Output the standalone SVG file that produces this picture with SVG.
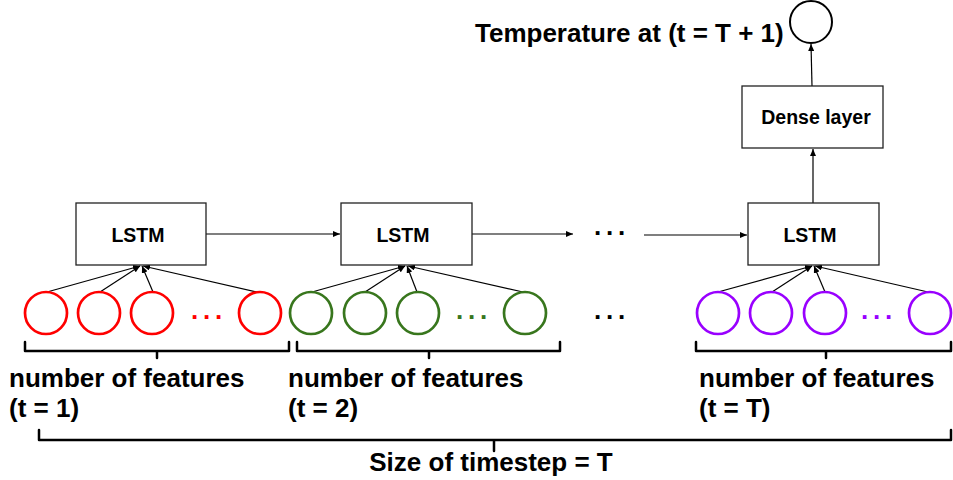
<svg xmlns="http://www.w3.org/2000/svg" width="953" height="480" viewBox="0 0 953 480">
<style>
  .box{fill:#fff;stroke:#222;stroke-width:1.3}
  .lbl{font-family:"Liberation Sans",Arial,sans-serif;font-weight:bold;fill:#000}
  .big{font-size:26px}
  .small{font-size:19.5px}
  .red{fill:none;stroke:#ff0000;stroke-width:2.7}
  .green{fill:none;stroke:#38761d;stroke-width:2.7}
  .purple{fill:none;stroke:#9900ff;stroke-width:2.7}
  .conn{fill:none;stroke:#000;stroke-width:1.2}
  .brace{fill:none;stroke:#000;stroke-width:2.5;stroke-linejoin:round;stroke-linecap:round}
</style>
<defs>
  <marker id="arr" markerUnits="userSpaceOnUse" markerWidth="7" markerHeight="6" refX="7" refY="3" orient="auto">
    <path d="M0,0 L7,3 L0,6 z" fill="#000"/>
  </marker>
</defs>
<rect width="953" height="480" fill="#fff"/>

<g id="connectors">
  <line class="conn" x1="47" y1="292" x2="140" y2="266" marker-end="url(#arr)"/>
  <line class="conn" x1="100" y1="292" x2="140" y2="266" marker-end="url(#arr)"/>
  <line class="conn" x1="153" y1="292" x2="142" y2="266" marker-end="url(#arr)"/>
  <line class="conn" x1="257" y1="292" x2="143" y2="266" marker-end="url(#arr)"/>

  <line class="conn" x1="312" y1="292" x2="405" y2="266" marker-end="url(#arr)"/>
  <line class="conn" x1="365" y1="292" x2="405" y2="266" marker-end="url(#arr)"/>
  <line class="conn" x1="417" y1="292" x2="407" y2="266" marker-end="url(#arr)"/>
  <line class="conn" x1="523" y1="292" x2="408" y2="266" marker-end="url(#arr)"/>

  <line class="conn" x1="718" y1="292" x2="812" y2="266" marker-end="url(#arr)"/>
  <line class="conn" x1="772" y1="292" x2="812" y2="266" marker-end="url(#arr)"/>
  <line class="conn" x1="825" y1="292" x2="814" y2="266" marker-end="url(#arr)"/>
  <line class="conn" x1="928" y1="292" x2="815" y2="266" marker-end="url(#arr)"/>

  <line class="conn" x1="206" y1="234" x2="340" y2="234" marker-end="url(#arr)"/>
  <line class="conn" x1="472" y1="234" x2="573" y2="234" marker-end="url(#arr)"/>
  <line class="conn" x1="644" y1="235" x2="747" y2="235" marker-end="url(#arr)"/>
  <line class="conn" x1="813" y1="203" x2="813" y2="149" marker-end="url(#arr)"/>
  <line class="conn" x1="812" y1="86" x2="811" y2="44" marker-end="url(#arr)"/>
</g>

<g id="lstm1"><rect class="box" x="76" y="203" width="130" height="62"/><text class="lbl small" x="138" y="242" text-anchor="middle">LSTM</text></g>
<g id="lstm2"><rect class="box" x="341" y="203" width="131" height="62"/><text class="lbl small" x="403" y="242" text-anchor="middle">LSTM</text></g>
<g id="lstm3"><rect class="box" x="748" y="203" width="131" height="62"/><text class="lbl small" x="810" y="242" text-anchor="middle">LSTM</text></g>
<g id="dense"><rect class="box" x="742" y="86" width="141" height="62"/><text class="lbl small" x="816" y="124" text-anchor="middle">Dense layer</text></g>
<g id="output"><circle cx="811" cy="22" r="21" fill="none" stroke="#000" stroke-width="2"/></g>
<g id="output-label"><text class="lbl big" x="475" y="42">Temperature at (t = T + 1)</text></g>

<g id="features1">
  <circle class="red" cx="46" cy="313" r="21"/>
  <circle class="red" cx="99" cy="313" r="21"/>
  <circle class="red" cx="152" cy="313" r="21"/>
  <circle class="red" cx="260" cy="313" r="21"/>
  <text class="lbl big" fill="#ff0000" style="fill:#ff0000" x="191 203 215" y="319">...</text>
</g>
<g id="features2">
  <circle class="green" cx="311" cy="313" r="21"/>
  <circle class="green" cx="365" cy="313" r="21"/>
  <circle class="green" cx="418" cy="313" r="21"/>
  <circle class="green" cx="525" cy="313" r="21"/>
  <text class="lbl big" style="fill:#38761d" x="456 468 480" y="319">...</text>
</g>
<g id="features3">
  <circle class="purple" cx="718" cy="313" r="21"/>
  <circle class="purple" cx="771" cy="313" r="21"/>
  <circle class="purple" cx="825" cy="313" r="21"/>
  <circle class="purple" cx="930" cy="313" r="21"/>
  <text class="lbl big" style="fill:#9900ff" x="861 873 885" y="319">...</text>
</g>
<g id="ellipsis-mid">
  <text class="lbl big" x="594 606 618" y="235">...</text>
  <text class="lbl big" x="594 606 618" y="319">...</text>
</g>

<g id="brace1">
  <path class="brace" d="M25,342 V351 H289 V342 M157,351 V358"/>
  <text class="lbl big" x="9" y="387">number of features</text>
  <text class="lbl big" x="9" y="417">(t = 1)</text>
</g>
<g id="brace2">
  <path class="brace" d="M297,342 V351 H560 V342 M429,351 V358"/>
  <text class="lbl big" x="288" y="387">number of features</text>
  <text class="lbl big" x="288" y="417">(t = 2)</text>
</g>
<g id="brace3">
  <path class="brace" d="M696,342 V351 H951 V342 M826,351 V358"/>
  <text class="lbl big" x="699" y="387">number of features</text>
  <text class="lbl big" x="699" y="417">(t = T)</text>
</g>
<g id="brace-total">
  <path class="brace" d="M39,430 V440 H951 V430 M494,440 V451"/>
  <text class="lbl big" x="491" y="471" text-anchor="middle">Size of timestep = T</text>
</g>
</svg>
